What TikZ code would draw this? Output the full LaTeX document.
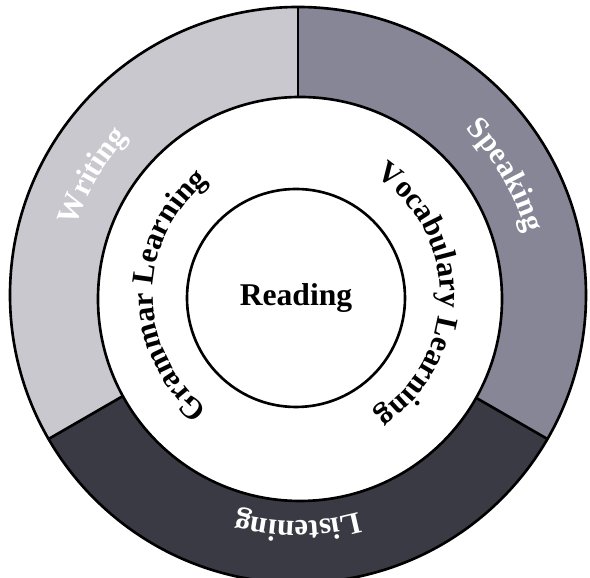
\documentclass[tikz,border=0pt]{standalone}
\usepackage{fontspec}
\setmainfont{Liberation Serif}
\usetikzlibrary{positioning,decorations.text}
\definecolor{writecol}{RGB}{200,200,206}
\definecolor{speakcol}{RGB}{134,134,150}
\definecolor{listencol}{RGB}{58,58,68}
\tikzset{disc/.style={circle, draw, line width=1.5pt, inner sep=0, outer sep=0}}
\tikzset{divider/.style={draw, line width=1.5pt}}
\newcommand\ringfont{\fontsize{17.5}{20}\selectfont\bfseries}
\newcommand\arclabel[5]{
		\path[decorate, decoration={text along path, text align=center,
			text={|\ringfont\color{#5}|#4}}]
			(#1:#3) arc[start angle=#1, end angle=#2, radius=#3];
	}

\begin{document}
\begin{tikzpicture}
                \useasboundingbox (-5.96,-5.66) rectangle (5.84,5.9);
                % ring sectors
                \fill[writecol] (0,0) -- (90:5.76) arc[start angle=90, end angle=210, radius=5.76] -- cycle;
                \fill[speakcol] (0,0) -- (-30:5.76) arc[start angle=-30, end angle=90, radius=5.76] -- cycle;
                \fill[listencol] (0,0) -- (210:5.76) arc[start angle=210, end angle=330, radius=5.76] -- cycle;
                \node[disc, minimum size=11.52cm] (outer) at (0,0) {};

                \draw[divider] (outer.center) -- (outer.90);
                \draw[divider] (outer.center) -- (outer.-30);
                \draw[divider] (outer.center) -- (outer.210);

                \node[disc, fill=white, minimum size=8.08cm] (middle) at (0.04,-0.08) {};
                \node[disc, minimum size=4.36cm, font=\fontsize{18}{21}\selectfont\bfseries] (reading) at (-0.04,-0.06) {Reading};

                % labels on the rings
                \arclabel{90}{-30}{4.72}{Speaking}{white}
                \arclabel{210}{90}{4.64}{Writing}{white}
                \arclabel{330}{210}{4.52}{Listening}{white}
                \arclabel{240}{120}{2.9}{Grammar Learning}{black}
                \arclabel{60}{-60}{2.84}{Vocabulary Learning}{black}
            \end{tikzpicture}
\end{document}
